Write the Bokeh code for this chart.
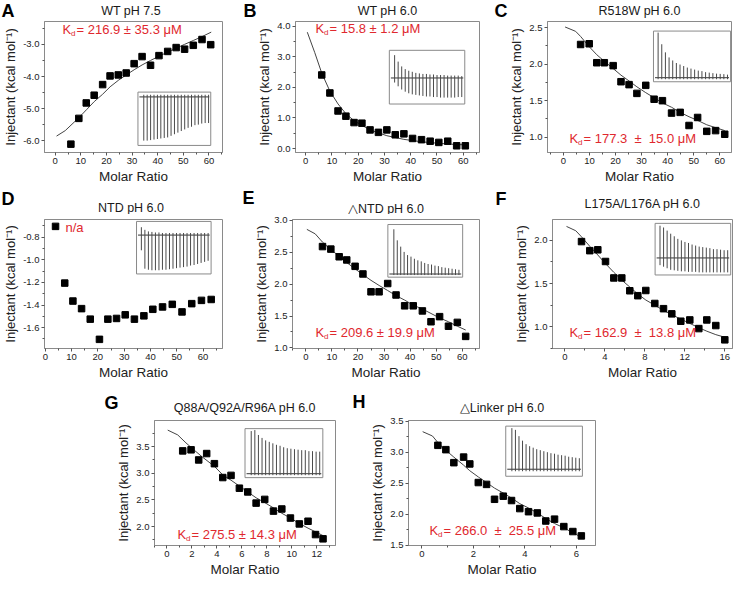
from bokeh.plotting import figure
from bokeh.models import Range1d, FixedTicker, PrintfTickFormatter, Label, Spacer
from bokeh.layouts import column, row
from bokeh.embed import file_html
from bokeh.resources import INLINE

FONT = "Liberation Sans"
RED = "#e0282e"
NB = "\u00a0"

# ---------------- data ----------------
# A  WT pH 7.5
a_title = "WT pH 7.5"
a_x = [6.1, 9.2, 12.1, 15.2, 18.5, 21.4, 24.6, 27.7, 30.8, 33.9, 37.2, 40.5, 43.9, 47.2, 50.5, 53.9, 57.3, 60.7]
a_y = [-6.10, -5.30, -4.82, -4.58, -4.25, -3.98, -3.95, -3.89, -3.60, -3.38, -3.65, -3.35, -3.22, -3.10, -3.15, -3.03, -2.85, -3.01]
a_fx = [0.5, 3.9, 9.2, 12.2, 15.2, 18.5, 21.4, 24.6, 27.7, 30.8, 33.9, 37.2, 40.5, 43.9, 47.2, 50.5, 53.9, 57.3, 60.9]
a_fy = [-5.85, -5.68, -5.28, -5.03, -4.78, -4.55, -4.32, -4.12, -3.95, -3.79, -3.64, -3.50, -3.37, -3.24, -3.12, -3.00, -2.88, -2.76, -2.62]
a_kd = "216.9 ± 35.3 μM"
a_xticks = [0, 10, 20, 30, 40, 50, 60]
a_yticks = [-6.0, -5.0, -4.0, -3.0]
a_ins_base = 0.91
a_ins_top = [0.95] * 20
a_ins_bot = [0.09, 0.09, 0.10, 0.11, 0.12, 0.13, 0.14, 0.15, 0.18, 0.21, 0.24, 0.27, 0.30, 0.33, 0.35, 0.38, 0.39, 0.41, 0.42, 0.42]

# B  WT pH 6.0
b_title = "WT pH 6.0"
b_x = [6.1, 9.2, 12.3, 15.3, 18.4, 21.4, 24.5, 27.7, 30.9, 34.1, 37.4, 40.7, 44.1, 47.4, 50.7, 54.1, 57.5, 60.8]
b_y = [2.41, 1.82, 1.23, 1.06, 0.85, 0.83, 0.61, 0.53, 0.61, 0.45, 0.48, 0.33, 0.29, 0.24, 0.20, 0.24, 0.09, 0.09]
b_fx = [0.6, 3.4, 6.1, 9.2, 12.3, 15.3, 18.4, 24.5, 30.9, 37.4, 44.1, 50.7, 57.5, 60.8]
b_fy = [3.81, 3.15, 2.47, 1.88, 1.46, 1.14, 0.91, 0.61, 0.42, 0.30, 0.22, 0.17, 0.13, 0.12]
b_kd = "15.8 ± 1.2 μM"
b_xticks = [0, 10, 20, 30, 40, 50, 60]
b_yticks = [0.0, 1.0, 2.0, 3.0, 4.0]
b_ins_base = 0.485
b_ins_top = [0.91, 0.79, 0.70, 0.65, 0.62, 0.60, 0.58, 0.57, 0.56, 0.56, 0.55, 0.55, 0.54, 0.54, 0.54, 0.53, 0.53, 0.53, 0.53, 0.52]
b_ins_bot = [0.40, 0.33, 0.27, 0.23, 0.20, 0.18, 0.17, 0.16, 0.15, 0.14, 0.14, 0.13, 0.13, 0.12, 0.12, 0.12, 0.12, 0.12, 0.13, 0.13]

# C  R518W pH 6.0
c_title = "R518W pH 6.0"
c_x = [6.6, 9.9, 12.8, 15.7, 19.1, 22.1, 25.2, 28.2, 31.6, 34.8, 38.0, 41.5, 44.8, 48.2, 51.5, 55.0, 58.4, 61.9]
c_y = [2.27, 2.28, 2.02, 2.02, 1.98, 1.76, 1.72, 1.60, 1.71, 1.52, 1.50, 1.33, 1.34, 1.16, 1.27, 1.08, 1.09, 1.04]
c_fx = [0.65, 4.7, 6.6, 9.9, 12.8, 15.7, 19.1, 22.1, 25.2, 28.2, 31.6, 34.8, 38.0, 41.5, 44.8, 48.2, 51.5, 55.0, 58.4, 61.9]
c_fy = [2.51, 2.45, 2.38, 2.24, 2.13, 2.04, 1.94, 1.85, 1.77, 1.69, 1.61, 1.54, 1.47, 1.41, 1.34, 1.28, 1.23, 1.17, 1.13, 1.09]
c_kd = "177.3 " + NB + "±" + NB + " 15.0 μM"
c_xticks = [0, 10, 20, 30, 40, 50, 60]
c_yticks = [1.0, 1.5, 2.0, 2.5]
c_ins_base = 0.08
c_ins_top = [0.97, 0.74, 0.58, 0.48, 0.42, 0.37, 0.34, 0.31, 0.28, 0.26, 0.24, 0.22, 0.21, 0.19, 0.18, 0.17, 0.16, 0.155, 0.15, 0.14]
c_ins_bot = [0.05] * 20

# D  NTD pH 6.0
d_title = "NTD pH 6.0"
d_x = [3.9, 7.4, 10.5, 13.8, 17.1, 20.6, 23.8, 27.1, 30.4, 33.9, 37.5, 40.9, 44.6, 48.3, 52.0, 55.7, 59.4, 63.1]
d_y = [-0.704, -1.206, -1.365, -1.432, -1.525, -1.704, -1.525, -1.519, -1.487, -1.525, -1.496, -1.438, -1.417, -1.394, -1.461, -1.388, -1.359, -1.351]
d_kd = "n/a"
d_xticks = [0, 10, 20, 30, 40, 50, 60]
d_yticks = [-1.6, -1.4, -1.2, -1.0, -0.8]
d_ins_base = 0.74
d_ins_top = [0.89, 0.84, 0.81, 0.80, 0.79, 0.79, 0.78, 0.78, 0.78, 0.78, 0.78, 0.78, 0.78, 0.78, 0.78, 0.78, 0.78, 0.78, 0.78, 0.78]
d_ins_bot = [0.45, 0.10, 0.08, 0.07, 0.07, 0.07, 0.08, 0.08, 0.09, 0.10, 0.11, 0.12, 0.13, 0.14, 0.16, 0.17, 0.19, 0.21, 0.23, 0.25]

# E  ΔNTD pH 6.0
e_title = "\u25b3NTD pH 6.0"
e_x = [6.4, 9.6, 12.8, 15.7, 18.9, 21.9, 25.0, 28.1, 31.4, 34.6, 37.9, 41.2, 44.7, 48.0, 51.3, 54.7, 58.1, 61.3]
e_y = [2.59, 2.55, 2.43, 2.38, 2.28, 2.16, 1.88, 1.88, 2.01, 1.83, 1.66, 1.66, 1.58, 1.41, 1.49, 1.34, 1.40, 1.18]
e_fx = [0.4, 3.6, 6.4, 9.6, 12.8, 15.7, 18.9, 21.9, 25.0, 28.1, 31.4, 34.6, 37.9, 41.2, 44.7, 48.0, 51.3, 54.7, 58.1, 61.3]
e_fy = [2.86, 2.79, 2.66, 2.54, 2.44, 2.34, 2.24, 2.15, 2.06, 1.98, 1.90, 1.82, 1.75, 1.67, 1.61, 1.54, 1.47, 1.41, 1.34, 1.28]
e_kd = "209.6 ± 19.9 μM"
e_xticks = [0, 10, 20, 30, 40, 50, 60]
e_yticks = [1.0, 1.5, 2.0, 2.5, 3.0]
e_ins_base = 0.06
e_ins_top = [0.91, 0.70, 0.58, 0.48, 0.42, 0.39, 0.35, 0.32, 0.30, 0.27, 0.25, 0.24, 0.22, 0.21, 0.19, 0.18, 0.17, 0.16, 0.15, 0.14]
e_ins_bot = [0.04] * 20

# F  L175A/L176A pH 6.0
f_title = "L175A/L176A pH 6.0"
f_x = [1.67, 2.5, 3.3, 4.07, 4.9, 5.7, 6.5, 7.3, 8.1, 9.0, 9.87, 10.7, 11.6, 12.5, 13.4, 14.2, 15.1, 16.0]
f_y = [1.985, 1.88, 1.89, 1.755, 1.565, 1.565, 1.417, 1.36, 1.42, 1.27, 1.21, 1.15, 1.065, 1.08, 0.98, 1.08, 1.015, 0.85]
f_fx = [0.17, 1.1, 1.67, 2.5, 3.3, 4.07, 4.9, 5.7, 6.5, 7.3, 8.1, 9.0, 9.87, 10.7, 11.6, 12.5, 13.4, 14.2, 15.1, 16.0]
f_fy = [2.16, 2.11, 2.04, 1.93, 1.83, 1.73, 1.63, 1.54, 1.46, 1.38, 1.31, 1.25, 1.19, 1.14, 1.09, 1.04, 0.99, 0.95, 0.91, 0.88]
f_kd = "162.9 " + NB + "±" + NB + " 13.8 μM"
f_xticks = [0, 4, 8, 12, 16]
f_yticks = [1.0, 1.5, 2.0]
f_ins_base = 0.33
f_ins_top = [0.955, 0.92, 0.86, 0.80, 0.75, 0.70, 0.67, 0.64, 0.62, 0.59, 0.57, 0.55, 0.54, 0.53, 0.52, 0.50, 0.50, 0.49, 0.48, 0.48]
f_ins_bot = [0.19, 0.16, 0.13, 0.10, 0.09, 0.08, 0.07, 0.07, 0.06, 0.06, 0.06, 0.05, 0.05, 0.05, 0.05, 0.05, 0.05, 0.05, 0.05, 0.05]

# G  Q88A/Q92A/R96A pH 6.0
g_title = "Q88A/Q92A/R96A pH 6.0"
g_x = [1.26, 1.93, 2.54, 3.18, 3.80, 4.47, 5.13, 5.80, 6.47, 7.14, 7.83, 8.53, 9.20, 9.89, 10.6, 11.3, 11.9, 12.5]
g_y = [3.42, 3.44, 3.25, 3.37, 3.18, 2.92, 2.96, 2.72, 2.65, 2.44, 2.51, 2.29, 2.33, 2.16, 2.05, 2.10, 1.85, 1.77]
g_fx = [0.06, 0.86, 1.52, 2.2, 2.86, 3.80, 4.47, 5.13, 5.80, 6.47, 7.14, 7.83, 8.53, 9.2, 9.89, 10.6, 11.3, 12.0, 12.5]
g_fy = [3.81, 3.72, 3.57, 3.43, 3.30, 3.13, 2.97, 2.87, 2.76, 2.65, 2.54, 2.45, 2.35, 2.25, 2.16, 2.06, 1.97, 1.89, 1.83]
g_kd = "275.5 ± 14.3 μM"
g_xticks = [0, 2, 4, 6, 8, 10, 12]
g_yticks = [2.0, 2.5, 3.0, 3.5]
g_ins_base = 0.08
g_ins_top = [0.95, 0.97, 0.87, 0.81, 0.76, 0.73, 0.70, 0.67, 0.65, 0.62, 0.60, 0.59, 0.58, 0.57, 0.56, 0.56, 0.54, 0.54, 0.53, 0.53]
g_ins_bot = [0.05] * 20

# H  ΔLinker pH 6.0
h_title = "\u25b3Linker pH 6.0"
h_x = [0.62, 0.93, 1.24, 1.62, 1.86, 2.19, 2.51, 2.82, 3.16, 3.48, 3.80, 4.14, 4.48, 4.81, 5.15, 5.51, 5.86, 6.19]
h_y = [3.11, 3.04, 2.83, 2.92, 2.81, 2.51, 2.48, 2.24, 2.29, 2.22, 2.09, 2.04, 2.02, 1.89, 1.92, 1.80, 1.72, 1.65]
h_fx = [0.03, 0.41, 0.67, 0.93, 1.24, 1.62, 1.86, 2.19, 2.51, 2.82, 3.16, 3.48, 3.80, 4.14, 4.48, 4.81, 5.15, 5.51, 5.86, 6.19]
h_fy = [3.33, 3.26, 3.13, 3.03, 2.92, 2.79, 2.70, 2.60, 2.51, 2.42, 2.34, 2.26, 2.17, 2.10, 2.02, 1.93, 1.85, 1.78, 1.70, 1.63]
h_kd = "266.0 " + NB + "±" + NB + " 25.5 μM"
h_xticks = [0, 2, 4, 6]
h_yticks = [1.5, 2.0, 2.5, 3.0, 3.5]
h_ins_base = 0.14
h_ins_top = [0.96, 0.925, 0.80, 0.71, 0.64, 0.60, 0.57, 0.54, 0.52, 0.50, 0.48, 0.46, 0.45, 0.43, 0.42, 0.41, 0.39, 0.38, 0.37, 0.36]
h_ins_bot = [0.10] * 20

X_LABEL = "Molar Ratio"
Y_LABEL = "Injectant (kcal mol\u207b\u00b9)"


def minor_between(ticks, lo, hi):
    step = ticks[1] - ticks[0]
    out = []
    t = ticks[0] - step / 2.0
    while t <= hi + 1e-9:
        if t >= lo - 1e-9:
            out.append(round(t, 6))
        t += step
    return out


def header(width, height, items):
    """Strip holding panel letters and titles; its frame is the whole canvas."""
    h = figure(width=width, height=height, x_range=Range1d(0, width), y_range=Range1d(0, height),
               min_border=0, x_axis_location=None, y_axis_location=None,
               output_backend="svg", toolbar_location=None, title=None)
    h.outline_line_color = None
    h.xgrid.visible = False
    h.ygrid.visible = False
    for kind, text, x, y in items:
        if kind == "letter":
            h.add_layout(Label(x=x, y=y, x_units="screen", y_units="screen", text=text,
                               text_align="left", text_baseline="middle", text_font=FONT,
                               text_font_size="18px", text_font_style="bold", text_color="black"))
        else:
            h.add_layout(Label(x=x, y=y, x_units="screen", y_units="screen", text=text,
                               text_align="center", text_baseline="middle", text_font=FONT,
                               text_font_size="12.5px", text_color="#1a1a1a"))
    return h


def panel(cfg):
    left, fw, right, top, fh, bottom = cfg["lay"]
    xr, yr = cfg["xr"], cfg["yr"]
    p = figure(width=left + fw + right, height=top + fh + bottom,
               min_border_left=left, min_border_right=right,
               min_border_top=top, min_border_bottom=bottom,
               x_range=Range1d(*xr), y_range=Range1d(*yr),
               output_backend="svg", toolbar_location=None, title=None)
    p.outline_line_color = "#8a8a8a"
    p.outline_line_width = 1
    p.xgrid.visible = False
    p.ygrid.visible = False
    p.background_fill_color = "white"
    p.border_fill_color = "white"

    p.xaxis.ticker = FixedTicker(ticks=cfg["xt"], minor_ticks=minor_between(cfg["xt"], xr[0], xr[1]))
    p.yaxis.ticker = FixedTicker(ticks=cfg["yt"], minor_ticks=minor_between(cfg["yt"], yr[0], yr[1]))
    p.xaxis.formatter = PrintfTickFormatter(format="%d")
    p.yaxis.formatter = PrintfTickFormatter(format="%.1f")
    p.xaxis.axis_label = X_LABEL
    p.yaxis.axis_label = Y_LABEL
    for ax in (p.xaxis[0], p.yaxis[0]):
        ax.axis_line_color = "#8a8a8a"
        ax.major_tick_line_color = "#555555"
        ax.minor_tick_line_color = "#555555"
        ax.major_tick_out = 3
        ax.major_tick_in = 0
        ax.minor_tick_out = 2
        ax.minor_tick_in = 0
        ax.major_label_text_font = FONT
        ax.major_label_text_font_size = "9.5px"
        ax.major_label_text_color = "#222222"
        ax.major_label_standoff = 2
        ax.axis_label_text_font = FONT
        ax.axis_label_text_font_style = "normal"
        ax.axis_label_text_color = "#222222"
        ax.axis_label_standoff = 2
    p.xaxis.axis_label_text_font_size = "13.5px"
    p.yaxis.axis_label_text_font_size = "13px"

    # inset thermogram
    x0, x1, y0, y1 = cfg["ibox"]
    p.extra_x_ranges = {"ix": Range1d(-x0 / (x1 - x0), (1 - x0) / (x1 - x0))}
    p.extra_y_ranges = {"iy": Range1d(-y0 / (y1 - y0), (1 - y0) / (y1 - y0))}
    tops, bots = cfg["itop"], cfg["ibot"]
    n = len(tops)
    u0, u1 = cfg["ispan"]
    us = [u0 + i * (u1 - u0) / (n - 1) for i in range(n)]
    base = cfg["ibase"]
    p.line([0.02, 0.98], [base, base], line_color="#333333", line_width=1,
           x_range_name="ix", y_range_name="iy")
    p.segment(x0=us, y0=bots, x1=us, y1=tops, line_color="#4a4a4a", line_width=1,
              x_range_name="ix", y_range_name="iy")
    p.quad(left=[0], right=[1], bottom=[0], top=[1], fill_alpha=0, line_color="#8a8a8a",
           line_width=1, x_range_name="ix", y_range_name="iy")

    # data
    if cfg.get("fx") is not None:
        p.line(cfg["fx"], cfg["fy"], line_color="#444444", line_width=1)
    p.scatter(cfg["x"], cfg["y"], marker="square", size=6.5, color="black")

    # Kd annotation
    kx, ky = cfg["kd_pos"]
    if ky < 0:
        ky = fh + ky
    if cfg["kd"] == "n/a":
        p.add_layout(Label(x=kx, y=ky, x_units="screen", y_units="screen", text="n/a",
                           text_baseline="middle", text_font=FONT, text_font_size="13px",
                           text_color=RED))
    else:
        p.add_layout(Label(x=kx, y=ky, x_units="screen", y_units="screen", text="K",
                           text_baseline="middle", text_font=FONT, text_font_size="13px",
                           text_color=RED))
        p.add_layout(Label(x=kx + 8.5, y=ky - 4, x_units="screen", y_units="screen", text="d",
                           text_baseline="middle", text_font=FONT, text_font_size="8px",
                           text_color=RED))
        p.add_layout(Label(x=kx + 14, y=ky, x_units="screen", y_units="screen",
                           text="= " + cfg["kd"], text_baseline="middle", text_font=FONT,
                           text_font_size="13px", text_color=RED))
    return p


pA = panel(dict(x=a_x, y=a_y, fx=a_fx, fy=a_fy, kd=a_kd,
                xr=(-4.2, 65.3), yr=(-6.36, -2.29), xt=a_xticks, yt=a_yticks,
                lay=(39, 183, 20, 0, 132, 34), kd_pos=(18, -9),
                ibox=(0.525, 0.934, 0.054, 0.461), ibase=a_ins_base,
                itop=a_ins_top, ibot=a_ins_bot, ispan=(0.08, 0.97)))
pB = panel(dict(x=b_x, y=b_y, fx=b_fx, fy=b_fy, kd=b_kd,
                xr=(-3.9, 66.2), yr=(-0.13, 4.16), xt=b_xticks, yt=b_yticks,
                lay=(53, 184, 13, 0, 132, 34), kd_pos=(20, -8),
                ibox=(0.51, 0.92, 0.37, 0.78), ibase=b_ins_base,
                itop=b_ins_top, ibot=b_ins_bot, ispan=(0.07, 0.96)))
pC = panel(dict(x=c_x, y=c_y, fx=c_fx, fy=c_fy, kd=c_kd,
                xr=(-6.1, 64.5), yr=(0.79, 2.585), xt=c_xticks, yt=c_yticks,
                lay=(55, 184, 3, 1, 131, 34), kd_pos=(22, 14),
                ibox=(0.576, 0.995, 0.54, 0.927), ibase=c_ins_base,
                itop=c_ins_top, ibot=c_ins_bot, ispan=(0.06, 0.96)))
pD = panel(dict(x=d_x, y=d_y, fx=None, fy=None, kd=d_kd,
                xr=(-0.3, 67.4), yr=(-1.785, -0.643), xt=d_xticks, yt=d_yticks,
                lay=(39, 183, 20, 5, 131, 32), kd_pos=(21, -10),
                ibox=(0.517, 0.936, 0.578, 0.985), ibase=d_ins_base,
                itop=d_ins_top, ibot=d_ins_bot, ispan=(0.065, 0.96)))
pE = panel(dict(x=e_x, y=e_y, fx=e_fx, fy=e_fy, kd=e_kd,
                xr=(-5.1, 66.6), yr=(0.99, 3.015), xt=e_xticks, yt=e_yticks,
                lay=(50, 187, 13, 1, 135, 32), kd_pos=(23, 16),
                ibox=(0.51, 0.91, 0.553, 0.961), ibase=e_ins_base,
                itop=e_ins_top, ibot=e_ins_bot, ispan=(0.08, 0.95)))
pF = panel(dict(x=f_x, y=f_y, fx=f_fx, fy=f_fy, kd=f_kd,
                xr=(-1.23, 16.77), yr=(0.75, 2.24), xt=f_xticks, yt=f_yticks,
                lay=(60, 180, 2, 5, 131, 32), kd_pos=(17, 16),
                ibox=(0.57, 0.99, 0.57, 0.97), ibase=f_ins_base,
                itop=f_ins_top, ibot=f_ins_bot, ispan=(0.065, 0.96)))
pG = panel(dict(x=g_x, y=g_y, fx=g_fx, fy=g_fy, kd=g_kd,
                xr=(-1.0, 13.5), yr=(1.645, 3.99), xt=g_xticks, yt=g_yticks,
                lay=(58, 181, 12, 3, 128, 32), kd_pos=(23, 11),
                ibox=(0.50, 0.93, 0.543, 0.935), ibase=g_ins_base,
                itop=g_ins_top, ibot=g_ins_bot, ispan=(0.08, 0.96)))
pH = panel(dict(x=h_x, y=h_y, fx=h_fx, fy=h_fy, kd=h_kd,
                xr=(-0.52, 6.74), yr=(1.495, 3.51), xt=h_xticks, yt=h_yticks,
                lay=(61, 187, 7, 4, 127, 32), kd_pos=(21, 15),
                ibox=(0.52, 0.93, 0.554, 0.955), ibase=h_ins_base,
                itop=h_ins_top, ibot=h_ins_bot, ispan=(0.08, 0.96)))

head1 = header(734, 20, [("letter", "A", 1, 10), ("title", a_title, 130.5, 10),
                         ("letter", "B", 243, 10), ("title", b_title, 387, 10),
                         ("letter", "C", 494, 10), ("title", c_title, 639, 10)])
head2 = header(734, 28, [("letter", "D", 1, 16), ("title", d_title, 130.5, 7),
                         ("letter", "E", 242, 17), ("title", e_title, 385.5, 6),
                         ("letter", "F", 495, 16), ("title", f_title, 642, 11)])
head3 = header(734, 34, [("letter", "G", 104, 14), ("title", g_title, 244.5, 9),
                         ("letter", "H", 352, 15), ("title", h_title, 501.5, 9)])

layout = column(
    head1,
    row(pA, pB, pC, spacing=0),
    head2,
    row(pD, pE, pF, spacing=0),
    head3,
    row(Spacer(width=96, height=163), pG, pH, spacing=0),
    spacing=0,
)

open("out.html", "w").write(file_html(layout, INLINE, title="ITC panels"))
